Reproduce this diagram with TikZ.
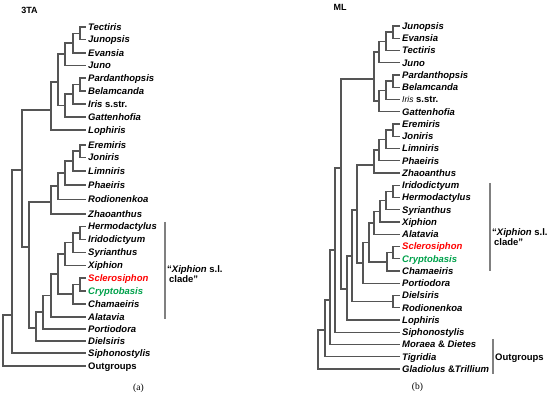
\documentclass[tikz,border=0pt]{standalone}
\usepackage{fontspec}
\setmainfont{Liberation Sans}
\newfontfamily\capfont{Liberation Serif}
\usepackage{xcolor}
\usetikzlibrary{positioning}
\definecolor{treegray}{HTML}{555555}
\definecolor{bargray}{HTML}{808080}
\definecolor{sclred}{HTML}{FF0000}
\definecolor{crygreen}{HTML}{00A14B}
\tikzset{
  treeline/.style={draw=treegray, line width=1.2pt},
  cladebar/.style={draw=bargray, line width=1.2pt},
  taxon/.style={anchor=west, inner sep=2pt, text height=7pt, text depth=0pt,
                font=\fontsize{9.5}{11}\selectfont\bfseries\itshape},
  grp/.style={anchor=west, align=left, inner sep=1pt,
              font=\fontsize{9.5}{10.5}\selectfont\bfseries},
  treetitle/.style={font=\fontsize{9}{11}\selectfont\bfseries},
  panelcap/.style={font=\capfont\fontsize{9.5}{11}\selectfont}
}

\begin{document}
\begin{tikzpicture}[x=1pt,y=-1pt]
  \useasboundingbox (0,0) rectangle (550,395);

  % (a) 3TA tree
  \node[treetitle] (tA) at (29.5,10) {3TA};
  \node[taxon] (aTect) at (86,27) {Tectiris};
  \node[taxon] (aJunp) at (86,39.5) {Junopsis};
  \node[taxon] (aEvan) at (86,53) {Evansia};
  \node[taxon] (aJuno) at (86,65.5) {Juno};
  \node[taxon] (aPard) at (86,78) {Pardanthopsis};
  \node[taxon] (aBela) at (86,91) {Belamcanda};
  \node[taxon] (aIris) at (86,104) {Iris \textup{s.str.}};
  \node[taxon] (aGatt) at (86,117) {Gattenhofia};
  \node[taxon] (aLoph) at (86,130) {Lophiris};
  \node[taxon] (aErem) at (86,145) {Eremiris};
  \node[taxon] (aJoni) at (86,157.5) {Joniris};
  \node[taxon] (aLimn) at (86,171) {Limniris};
  \node[taxon] (aPhae) at (86,185) {Phaeiris};
  \node[taxon] (aRodi) at (86,199.5) {Rodionenkoa};
  \node[taxon] (aZhao) at (86,214) {Zhaoanthus};
  \node[taxon] (aHerm) at (86,226.5) {Hermodactylus};
  \node[taxon] (aIrid) at (86,239.5) {Iridodictyum};
  \node[taxon] (aSyri) at (86,252.5) {Syrianthus};
  \node[taxon] (aXiph) at (86,265.5) {Xiphion};
  \node[taxon, text=sclred] (aScle) at (86,278) {Sclerosiphon};
  \node[taxon, text=crygreen] (aCryp) at (86,291) {Cryptobasis};
  \node[taxon] (aCham) at (86,304) {Chamaeiris};
  \node[taxon] (aAlat) at (86,317) {Alatavia};
  \node[taxon] (aPort) at (86,329) {Portiodora};
  \node[taxon] (aDiel) at (86,341) {Dielsiris};
  \node[taxon] (aSiph) at (86,353) {Siphonostylis};
  \node[taxon] (aOutg) at (86,366) {\textup{Outgroups}};

  \coordinate (a1) at (80,33.25);
  \coordinate (a2) at (73,43);
  \coordinate (a3) at (65,54);
  \coordinate (a4) at (80,84.5);
  \coordinate (a5) at (73,94);
  \coordinate (a6) at (65,105.5);
  \coordinate (a7) at (58,82);
  \coordinate (a8) at (51,110);
  \coordinate (a9) at (80,151);
  \coordinate (a10) at (73,161);
  \coordinate (a11) at (65,173);
  \coordinate (a12) at (58,186);
  \coordinate (a13) at (51,202);
  \coordinate (a14) at (80,233);
  \coordinate (a15) at (73,242.5);
  \coordinate (a16) at (65,254);
  \coordinate (a17) at (80,284.5);
  \coordinate (a18) at (73,294);
  \coordinate (a19) at (58,274);
  \coordinate (a20) at (51,295.5);
  \coordinate (a21) at (43,312);
  \coordinate (a22) at (36,328);
  \coordinate (a23) at (29,247);
  \coordinate (a24) at (22,170);
  \coordinate (a25) at (12,315);
  \coordinate (a26) at (3,340);

  \foreach \p/\c in {a1/aTect,a1/aJunp,a2/aEvan,a3/aJuno,a4/aPard,a4/aBela,
      a5/aIris,a6/aGatt,a8/aLoph,a9/aErem,a9/aJoni,a10/aLimn,a11/aPhae,
      a12/aRodi,a13/aZhao,a14/aHerm,a14/aIrid,a15/aSyri,a16/aXiph,a17/aScle,
      a17/aCryp,a18/aCham,a20/aAlat,a21/aPort,a22/aDiel,a25/aSiph,a26/aOutg}
    \draw[treeline] (\p) |- (\c.west);
  \foreach \p/\c in {a2/a1,a3/a2,a5/a4,a6/a5,a7/a3,a7/a6,a8/a7,a10/a9,
      a11/a10,a12/a11,a13/a12,a15/a14,a16/a15,a18/a17,a19/a16,a19/a18,
      a20/a19,a21/a20,a22/a21,a23/a13,a23/a22,a24/a8,a24/a23,a25/a24,a26/a25}
    \draw[treeline] (\p) |- (\c);

  \coordinate (aBarTop) at (165,222);
  \coordinate (aBarBot) at (165,319);
  \draw[cladebar] (aBarTop) -- (aBarBot);
  \node[grp] (aXiLab) at (166,274) {“\textit{Xiphion} s.l.\\\hspace*{2pt}clade”};
  \node[panelcap] (capA) at (138.5,388) {(a)};

  % (b) ML tree
  \node[treetitle] (tB) at (340,7) {ML};
  \node[taxon] (bJunp) at (400,26) {Junopsis};
  \node[taxon] (bEvan) at (400,38.25) {Evansia};
  \node[taxon] (bTect) at (400,50.5) {Tectiris};
  \node[taxon] (bJuno) at (400,62.75) {Juno};
  \node[taxon] (bPard) at (400,75) {Pardanthopsis};
  \node[taxon] (bBela) at (400,87.25) {Belamcanda};
  \node[taxon] (bIris) at (400,99.5) {{\mdseries\fontsize{8.5}{10}\selectfont Iris} \textup{s.str.}};
  \node[taxon] (bGatt) at (400,111.75) {Gattenhofia};
  \node[taxon] (bErem) at (400,124) {Eremiris};
  \node[taxon] (bJoni) at (400,136.25) {Joniris};
  \node[taxon] (bLimn) at (400,148.5) {Limniris};
  \node[taxon] (bPhae) at (400,160.75) {Phaeiris};
  \node[taxon] (bZhao) at (400,173) {Zhaoanthus};
  \node[taxon] (bIrid) at (400,185.25) {Iridodictyum};
  \node[taxon] (bHerm) at (400,197.5) {Hermodactylus};
  \node[taxon] (bSyri) at (400,209.75) {Syrianthus};
  \node[taxon] (bXiph) at (400,222) {Xiphion};
  \node[taxon] (bAlat) at (400,234.25) {Alatavia};
  \node[taxon, text=sclred] (bScle) at (400,246.5) {Sclerosiphon};
  \node[taxon, text=crygreen] (bCryp) at (400,258.75) {Cryptobasis};
  \node[taxon] (bCham) at (400,271) {Chamaeiris};
  \node[taxon] (bPort) at (400,283.25) {Portiodora};
  \node[taxon] (bDiel) at (400,295.5) {Dielsiris};
  \node[taxon] (bRodi) at (400,307.75) {Rodionenkoa};
  \node[taxon] (bLoph) at (400,320) {Lophiris};
  \node[taxon] (bSiph) at (400,332.25) {Siphonostylis};
  \node[taxon] (bMora) at (400,344.5) {Moraea \textup{\&} Dietes};
  \node[taxon] (bTigr) at (400,356.75) {Tigridia};
  \node[taxon] (bGlad) at (400,369) {Gladiolus \textup{\&}Trillium};

  \coordinate (b1) at (393,32);
  \coordinate (b2) at (386,41.5);
  \coordinate (b3) at (379,52);
  \coordinate (b4) at (393,81);
  \coordinate (b5) at (386,90.5);
  \coordinate (b6) at (379,101);
  \coordinate (b7) at (374,79);
  \coordinate (b8) at (393,130);
  \coordinate (b9) at (386,139.5);
  \coordinate (b10) at (379,150);
  \coordinate (b11) at (374,165);
  \coordinate (b12) at (393,191.5);
  \coordinate (b13) at (386,200.5);
  \coordinate (b14) at (380,211.5);
  \coordinate (b15) at (374,223);
  \coordinate (b16) at (393,252.5);
  \coordinate (b17) at (387,262);
  \coordinate (b18) at (369,242.5);
  \coordinate (b19) at (363,263);
  \coordinate (b20) at (357,210);
  \coordinate (b21) at (352,256);
  \coordinate (b22) at (393,301.5);
  \coordinate (b23) at (347,289);
  \coordinate (b24) at (341,168);
  \coordinate (b25) at (335,250);
  \coordinate (b26) at (330,300);
  \coordinate (b27) at (325,330);
  \coordinate (b28) at (318,350);

  \foreach \p/\c in {b1/bJunp,b1/bEvan,b2/bTect,b3/bJuno,b4/bPard,b4/bBela,
      b5/bIris,b6/bGatt,b8/bErem,b8/bJoni,b9/bLimn,b10/bPhae,b11/bZhao,
      b12/bIrid,b12/bHerm,b13/bSyri,b14/bXiph,b15/bAlat,b16/bScle,b16/bCryp,
      b17/bCham,b19/bPort,b22/bDiel,b22/bRodi,b23/bLoph,b25/bSiph,b26/bMora,
      b27/bTigr,b28/bGlad}
    \draw[treeline] (\p) |- (\c.west);
  \foreach \p/\c in {b2/b1,b3/b2,b5/b4,b6/b5,b7/b3,b7/b6,b9/b8,b10/b9,
      b11/b10,b13/b12,b14/b13,b15/b14,b17/b16,b18/b15,b18/b17,b19/b18,
      b20/b11,b20/b19,b21/b20,b21/b22,b23/b21,b24/b7,b24/b23,b25/b24,
      b26/b25,b27/b26,b28/b27}
    \draw[treeline] (\p) |- (\c);

  \coordinate (bBarTop) at (490,183);
  \coordinate (bBarBot) at (490,271);
  \draw[cladebar] (bBarTop) -- (bBarBot);
  \node[grp] (bXiLab) at (491,237) {“\textit{Xiphion} s.l.\\\hspace*{2pt}clade”};
  \coordinate (bOutTop) at (493,339);
  \coordinate (bOutBot) at (493,374);
  \draw[cladebar] (bOutTop) -- (bOutBot);
  \node[grp] (bOutLab) at (494,358) {Outgroups};
  \node[panelcap] (capB) at (417.5,387) {(b)};
\end{tikzpicture}
\end{document}
